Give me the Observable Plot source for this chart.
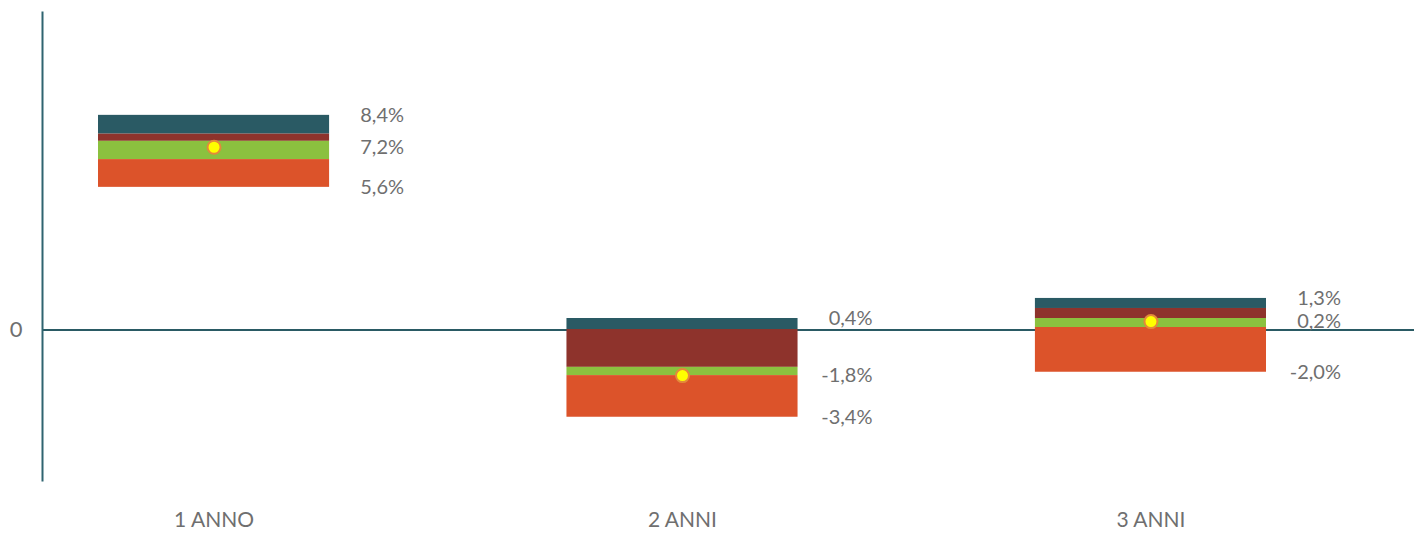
<!DOCTYPE html>
<html>
<head>
<meta charset="utf-8">
<script src="https://cdn.jsdelivr.net/npm/d3@7"></script>
<script src="https://cdn.jsdelivr.net/npm/@observablehq/plot@0.6"></script>
<style>
  html, body { margin: 0; padding: 0; background: #ffffff; }
  #chart { width: 1414px; height: 534px; }
</style>
</head>
<body>
<div id="chart"></div>
<script>
// Categories (periods)
const categories = ["1 ANNO", "2 ANNI", "3 ANNI"];
// Segment boundaries (%), top to bottom
const maxVal  = [8.35, 0.45, 1.23];
const upper   = [7.62, 0.02, 0.84];
const middle  = [7.34, -1.45, 0.45];
const lower   = [6.63, -1.77, 0.10];
const minVal  = [5.55, -3.39, -1.64];
// Marker (yellow dot) values
const pointVal = [7.11, -1.77, 0.33];
// Printed labels
const labelTop = [8.4, 0.4, 1.3];
const labelMid = [7.2, -1.8, 0.2];
const labelLow = [5.6, -3.4, -2.0];
// Segment names and colours
const segNames  = ["s1", "s2", "s3", "s4"];
const segColors = ["#2a5a64", "#8e332c", "#8bc13f", "#dc532a"];

const fmt = v => v.toFixed(1).replace(".", ",") + "%";

const segRows = categories.flatMap((c, i) => {
  const b = [maxVal[i], upper[i], middle[i], lower[i], minVal[i]];
  return segNames.map((s, k) => ({cat: c, seg: s, y1: b[k], y2: b[k + 1]}));
});
const pointRows = categories.map((c, i) => ({cat: c, v: pointVal[i]}));
const labelRows = categories.flatMap((c, i) => [
  {cat: c, y: maxVal[i], text: fmt(labelTop[i])},
  {cat: c, y: pointVal[i], text: fmt(labelMid[i])},
  {cat: c, y: minVal[i], text: fmt(labelLow[i])}
]);

const chart = Plot.plot({
  width: 1414,
  height: 534,
  marginTop: 12,
  marginBottom: 54,
  marginLeft: 42,
  marginRight: 0,
  style: {fontFamily: "Lato, 'Open Sans', sans-serif", fontSize: "20px", color: "#6f6f6f", background: "#ffffff"},
  x: {type: "band", domain: categories, range: [98, 1266], paddingInner: 0.5067, paddingOuter: 0, round: false, label: null},
  y: {domain: [-5.85, 12.35], label: null},
  color: {domain: segNames, range: segColors},
  marks: [
    Plot.ruleY([0], {stroke: "#2a5a64", strokeWidth: 2}),
    Plot.barY(segRows, {x: "cat", y1: "y1", y2: "y2", fill: "seg"}),
    Plot.dot(pointRows, {x: "cat", y: "v", r: 6.5, fill: "#ffff00", stroke: "#e38a3a", strokeWidth: 2}),
    Plot.text(labelRows, {x: "cat", y: "y", text: "text", dx: 190, textAnchor: "end", fill: "#6f6f6f", fontSize: 20}),
    Plot.axisX({tickSize: 0, tickPadding: 32, fontSize: 21, label: null}),
    Plot.axisY({ticks: [0], tickSize: 0, tickPadding: 20, fontSize: 22, label: null, tickFormat: d => String(d)}),
    Plot.frame({anchor: "left", stroke: "#2f6470", strokeWidth: 2})
  ]
});
document.getElementById("chart").appendChild(chart);
</script>
</body>
</html>
